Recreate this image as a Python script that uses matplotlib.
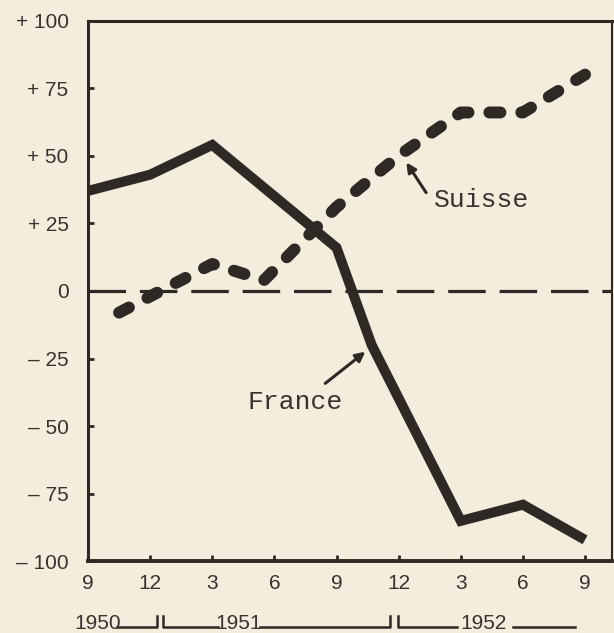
import matplotlib.pyplot as plt

plt.rcParams['lines.scale_dashes'] = False

# mois comptés depuis septembre 1950
france_x = [0, 3, 6, 12, 13.7, 18, 21, 24]
france_y = [37, 43, 54, 16, -20, -85, -79, -92]
suisse_x = [1.5, 6, 8.5, 12, 15, 18, 21, 24]
suisse_y = [-8, 10, 4, 31, 50, 66, 66, 80]

x_ticks = [0, 3, 6, 9, 12, 15, 18, 21, 24]
x_labels = ['9', '12', '3', '6', '9', '12', '3', '6', '9']
y_ticks = [100, 75, 50, 25, 0, -25, -50, -75, -100]
y_labels = ['+ 100', '+ 75', '+ 50', '+ 25', '0', '– 25', '– 50', '– 75', '– 100']
years = ['1950', '1951', '1952']

bg = '#f2eddc'
ink = '#2e2925'
txt = '#38332e'

fig = plt.figure(figsize=(6.14, 6.33), dpi=100, facecolor=bg)
ax = fig.add_axes([0.1433, 0.113, 0.8534, 0.8546], facecolor=bg)

ax.axhline(0, color=ink, lw=2.3, dashes=(27, 10), zorder=1)
ax.plot(france_x, france_y, color=ink, lw=7.2, solid_joinstyle='miter',
        solid_capstyle='butt', zorder=3)
ax.plot(suisse_x, suisse_y, color=ink, lw=8.6, dashes=(8, 15),
        dash_capstyle='round', dash_joinstyle='round', zorder=2)

ax.set_xlim(0, 25.3)
ax.set_ylim(-100, 100)

ax.set_xticks(x_ticks)
ax.set_xticklabels(x_labels)
ax.set_yticks(y_ticks)
ax.set_yticklabels(y_labels)
ax.tick_params(direction='in', length=4, width=2, color=ink, labelcolor=txt,
               labelsize=15)
ax.tick_params(axis='y', pad=14)
ax.tick_params(axis='x', pad=9)
for lab in ax.get_xticklabels() + ax.get_yticklabels():
    lab.set_family('Liberation Sans')

ax.spines['left'].set_linewidth(2.2)
ax.spines['top'].set_linewidth(2.2)
ax.spines['bottom'].set_linewidth(2.8)
ax.spines['right'].set_linewidth(1.5)
for s in ax.spines.values():
    s.set_color(ink)

# annotations
arrow = dict(arrowstyle='-|>', color=ink, lw=2.2, mutation_scale=14)
ax.annotate('', xy=(15.3, 48.4), xytext=(16.4, 35.5), arrowprops=arrow, zorder=4)
ax.text(16.7, 33.6, 'Suisse', family='Liberation Mono', fontsize=19,
        color=txt, va='center', ha='left')
ax.annotate('', xy=(13.5, -21.8), xytext=(11.35, -34.8), arrowprops=arrow, zorder=4)
ax.text(7.7, -41, 'France', family='Liberation Mono', fontsize=19,
        color=txt, va='center', ha='left')

# ligne des années sous l'axe
tr = ax.get_xaxis_transform()
yl, yb = -0.121, -0.101
kw = dict(color=ink, lw=1.8, transform=tr, clip_on=False)
ax.plot([1.4, 3.33, 3.33], [yl, yl, yb], **kw)
ax.plot([3.62, 3.62, 6.28], [yb, yl, yl], **kw)
ax.plot([8.3, 14.6, 14.6], [yl, yl, yb], **kw)
ax.plot([14.98, 14.98, 17.8], [yb, yl, yl], **kw)
ax.plot([20.5, 23.5], [yl, yl], **kw)
for xc, yr in zip([0.45, 7.25, 19.1], years):
    ax.text(xc, -0.114, yr, transform=tr, ha='center', va='center',
            fontsize=15, color=txt, family='Liberation Sans')

fig.savefig('out.png', dpi=100, facecolor=bg)
